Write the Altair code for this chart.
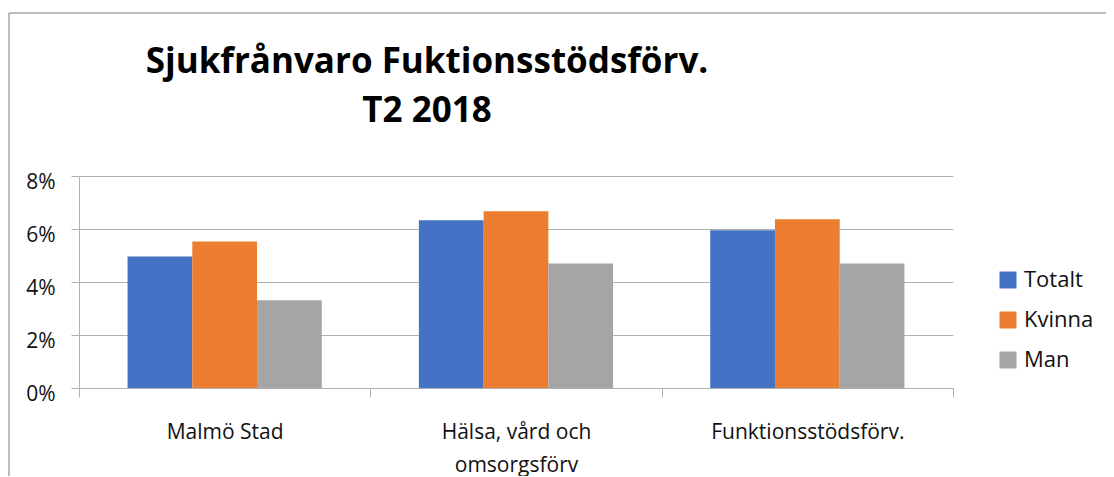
import altair as alt
import pandas as pd

categories = ["Malmö Stad", "Hälsa, vård och omsorgsförv", "Funktionsstödsförv."]
series = ["Totalt", "Kvinna", "Man"]
totalt = [0.0496, 0.0633, 0.0595]
kvinna = [0.0553, 0.0667, 0.0637]
man = [0.0331, 0.0470, 0.0470]
colors = ["#4472C4", "#ED7D31", "#A5A5A5"]
y_ticks = [0, 0.02, 0.04, 0.06, 0.08]
title_lines = ["Sjukfrånvaro Fuktionsstödsförv.", "T2 2018"]

rows = []
for i, c in enumerate(categories):
    for s, vals in zip(series, [totalt, kvinna, man]):
        rows.append({"Kategori": c, "Serie": s, "Värde": vals[i]})
df = pd.DataFrame(rows)

FONT = "Open Sans"
GRID = "#B0B0B0"

bars = alt.Chart(df).mark_bar().encode(
    x=alt.X("Kategori:N", sort=categories, title=None,
            scale=alt.Scale(paddingInner=0, paddingOuter=0),
            axis=alt.Axis(labelAngle=0, labelFontSize=21, labelFont=FONT, labelColor="#111111",
                          tickBand="extent", tickSize=9, tickColor=GRID, domainColor=GRID,
                          labelPadding=24, labelLineHeight=33, labelLimit=400,
                          labelExpr="datum.label == 'Hälsa, vård och omsorgsförv' ? ['Hälsa, vård och', 'omsorgsförv'] : datum.label")),
    xOffset=alt.XOffset("Serie:N", sort=series, scale=alt.Scale(paddingInner=0, paddingOuter=0.75)),
    y=alt.Y("Värde:Q", title=None,
            scale=alt.Scale(domain=[0, 0.08], nice=False),
            axis=alt.Axis(values=y_ticks, format=".0%", labelFontSize=21, labelFont=FONT,
                          labelColor="#111111", tickSize=8, tickColor=GRID, gridColor=GRID,
                          domainColor=GRID, labelPadding=16, labelOffset=6)),
    color=alt.Color("Serie:N", sort=series,
                    scale=alt.Scale(domain=series, range=colors),
                    legend=alt.Legend(title=None, orient="none", legendX=918, legendY=93,
                                      symbolType="square", symbolSize=289, symbolStrokeWidth=0,
                                      labelFontSize=22, labelFont=FONT, labelColor="#111111",
                                      labelOffset=5, rowPadding=18)),
)

frame = pd.DataFrame({"k": [0]})
left_border = alt.Chart(frame).mark_rule(color="#A6A6A6", strokeWidth=1.5).encode(
    x=alt.value(-70), y=alt.value(-163), y2=alt.value(310))
top_border = alt.Chart(frame).mark_rule(color="#A6A6A6", strokeWidth=1.5).encode(
    x=alt.value(-70), x2=alt.value(1040), y=alt.value(-163))

chart = alt.layer(bars, left_border, top_border).properties(
    width=874, height=212,
    padding={"left": 71, "top": 168, "right": 153, "bottom": 88},
    autosize=alt.AutoSizeParams(type="none"),
    title=alt.TitleParams(text=title_lines, font=FONT, fontSize=35, fontWeight="bold",
                          color="#000000", anchor="middle", frame="group", dx=-89,
                          offset=0, dy=117, lineHeight=49),
).configure_view(stroke=None)

chart.save("out.html", embed_options={"renderer": "svg", "actions": False})
